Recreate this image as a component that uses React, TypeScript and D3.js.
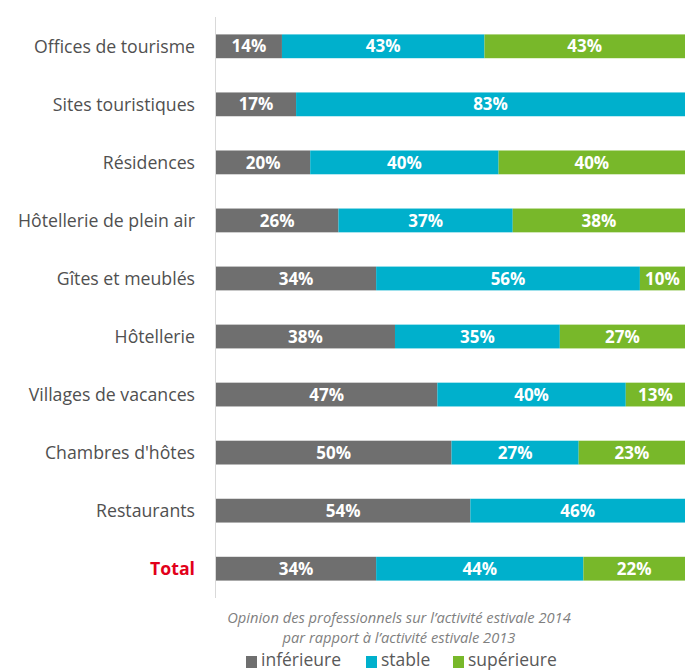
import * as d3 from 'd3';
import React, { useEffect, useRef } from 'react';

const categories = [
  'Offices de tourisme',
  'Sites touristiques',
  'Résidences',
  'Hôtellerie de plein air',
  'Gîtes et meublés',
  'Hôtellerie',
  'Villages de vacances',
  "Chambres d'hôtes",
  'Restaurants',
  'Total',
];
const inferieure = [14, 17, 20, 26, 34, 38, 47, 50, 54, 34];
const stable = [43, 83, 40, 37, 56, 35, 40, 27, 46, 44];
const superieure = [43, 0, 40, 38, 10, 27, 13, 23, 0, 22];

const seriesNames = ['inférieure', 'stable', 'supérieure'];
const seriesColors = ['#6f6f6f', '#00b0cc', '#78b82a'];

const width = 685;
const height = 671;
const font = '"Open Sans", sans-serif';

const App = () => {
  const svgRef = useRef<SVGSVGElement | null>(null);

  useEffect(() => {
    const svg = d3.select(svgRef.current);
    svg.selectAll('*').remove();

    const rows = categories.map((c, i) => ({
      cat: c,
      vals: [inferieure[i], stable[i], superieure[i]],
    }));

    const xScale = d3.scaleLinear().domain([0, 100]).range([216, 687]);
    const yScale = d3
      .scaleBand()
      .domain(categories)
      .range([17, 598])
      .paddingInner(0.59)
      .paddingOuter(0.3);

    // axis line
    svg
      .append('line')
      .attr('x1', 215.5)
      .attr('x2', 215.5)
      .attr('y1', 17)
      .attr('y2', 598)
      .attr('stroke', '#d9d9d9')
      .attr('stroke-width', 1);

    const g = svg.append('g');
    rows.forEach((r) => {
      let start = 0;
      r.vals.forEach((v, j) => {
        if (v > 0) {
          const x0 = xScale(start);
          const x1 = xScale(start + v);
          g.append('rect')
            .attr('x', x0)
            .attr('y', yScale(r.cat))
            .attr('width', x1 - x0)
            .attr('height', yScale.bandwidth())
            .attr('fill', seriesColors[j]);
          g.append('text')
            .attr('x', (x0 + Math.min(x1, width)) / 2)
            .attr('y', yScale(r.cat)! + yScale.bandwidth() / 2)
            .attr('dy', '0.36em')
            .attr('text-anchor', 'middle')
            .attr('fill', 'white')
            .style('font-family', font)
            .style('font-weight', 'bold')
            .style('font-size', '17px')
            .text(v + '%');
        }
        start += v;
      });
    });

    // category labels
    svg
      .append('g')
      .selectAll('text')
      .data(categories)
      .enter()
      .append('text')
      .attr('x', 195)
      .attr('y', (d) => yScale(d)! + yScale.bandwidth() / 2)
      .attr('dy', '0.36em')
      .attr('text-anchor', 'end')
      .attr('fill', (d) => (d === 'Total' ? '#e2001a' : '#505050'))
      .style('font-family', font)
      .style('font-weight', (d) => (d === 'Total' ? 'bold' : 'normal'))
      .style('font-size', '17.7px')
      .text((d) => d);

    // caption
    const caption = [
      'Opinion des professionnels sur l’activité estivale 2014',
      'par rapport à l’activité estivale 2013',
    ];
    svg
      .append('g')
      .selectAll('text')
      .data(caption)
      .enter()
      .append('text')
      .attr('x', 399)
      .attr('y', (d, i) => 623 + i * 20)
      .attr('text-anchor', 'middle')
      .attr('fill', '#7f7f7f')
      .style('font-family', font)
      .style('font-style', 'italic')
      .style('font-size', '14.7px')
      .text((d) => d);

    // legend
    const legendX = [246, 366, 453];
    const legend = svg.append('g');
    seriesNames.forEach((name, i) => {
      legend
        .append('rect')
        .attr('x', legendX[i])
        .attr('y', 656)
        .attr('width', 11)
        .attr('height', 12)
        .attr('fill', seriesColors[i]);
      legend
        .append('text')
        .attr('x', legendX[i] + 15)
        .attr('y', 666)
        .attr('fill', '#595959')
        .style('font-family', font)
        .style('font-size', '17.5px')
        .text(name);
    });
  }, []);

  return (
    <svg
      ref={svgRef}
      width={width}
      height={height}
      style={{ position: 'absolute', left: 0, top: 0, background: 'white' }}
    ></svg>
  );
};

export default App;
